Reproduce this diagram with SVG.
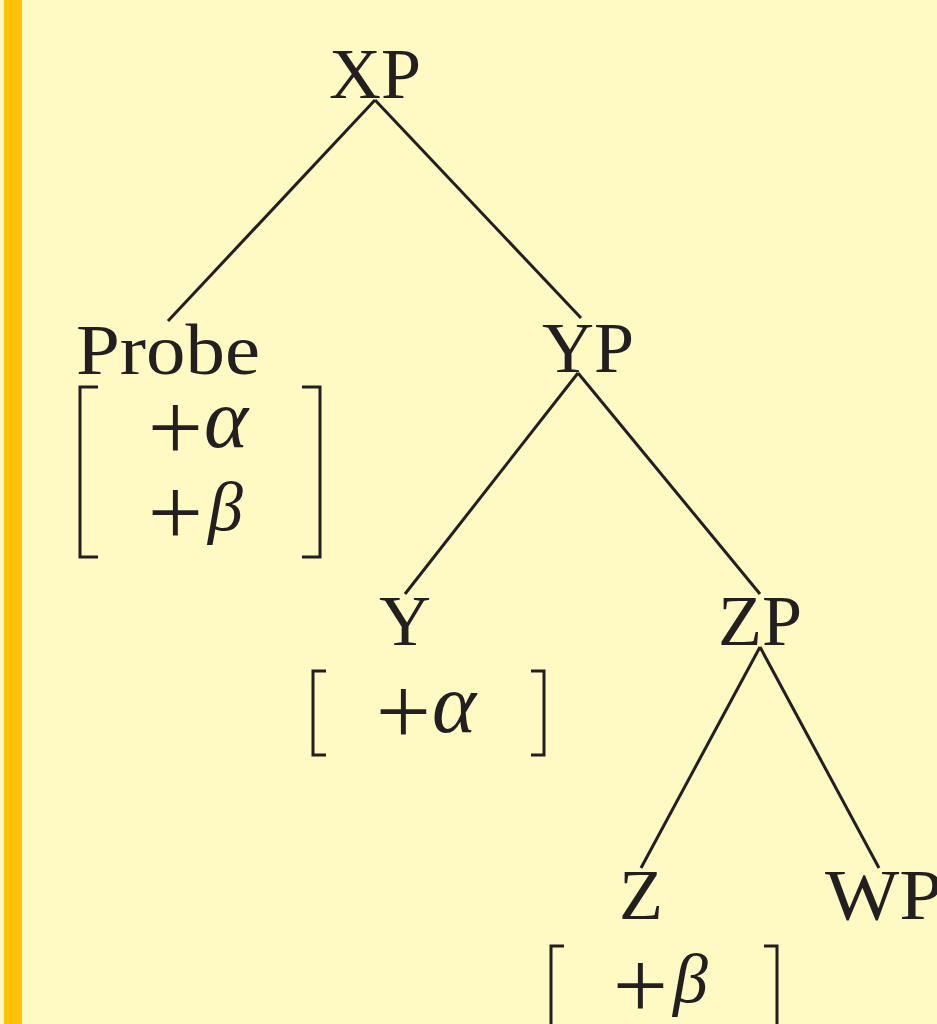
<svg xmlns="http://www.w3.org/2000/svg" width="937" height="1024" viewBox="0 0 937 1024">
<style>
.lbl{font-family:"Liberation Serif","DejaVu Serif",serif;font-size:72px;fill:#231F20;text-anchor:middle}
.pl{font-family:"Liberation Serif","DejaVu Serif",serif;font-size:98px;fill:#231F20;text-anchor:middle}
.al{font-family:"Liberation Serif","DejaVu Serif",serif;font-size:84px;font-style:italic;fill:#231F20}
.be{font-family:"Liberation Serif","DejaVu Serif",serif;font-size:70px;font-style:italic;fill:#231F20}
.br{fill:none;stroke:#231F20;stroke-width:3}
.edge{stroke:#231F20;stroke-width:3;fill:none}
</style>
<rect width="937" height="1024" fill="#FFF9C4"/>
<rect x="4" y="0" width="18" height="1024" fill="#FFC107"/>
<g id="connectors">
<line class="edge" x1="375" y1="100" x2="168" y2="321"/>
<line class="edge" x1="375" y1="100" x2="581" y2="318"/>
<line class="edge" x1="578" y1="373" x2="405" y2="594"/>
<line class="edge" x1="578" y1="373" x2="760" y2="594"/>
<line class="edge" x1="760" y1="647" x2="641" y2="868"/>
<line class="edge" x1="760" y1="647" x2="879" y2="868"/>
</g>
<g id="XP"><text class="lbl" x="375" y="98">XP</text></g>
<g id="Probe">
<text class="lbl" x="168" y="374" textLength="184" lengthAdjust="spacingAndGlyphs">Probe</text>
<path class="br" d="M98,387 H80 V557 H98 M302,387 H320 V557 H302"/>
<text class="pl" x="175.5" y="460">+</text><text class="al" x="204" y="447">α</text>
<text class="pl" x="175.5" y="545">+</text><text class="be" x="208" y="530">β</text>
</g>
<g id="YP"><text class="lbl" x="588" y="372">YP</text></g>
<g id="Y">
<text class="lbl" x="405" y="645">Y</text>
<path class="br" d="M326,671 H313 V755 H326 M531,671 H544 V755 H531"/>
<text class="pl" x="403.5" y="744">+</text><text class="al" x="432" y="732">α</text>
</g>
<g id="ZP"><text class="lbl" x="760" y="645">ZP</text></g>
<g id="Z">
<text class="lbl" x="641" y="919">Z</text>
<path class="br" d="M564,946 H551 V1030 M764,946 H777 V1030"/>
<text class="pl" x="640.5" y="1018">+</text><text class="be" x="673" y="1002">β</text>
</g>
<g id="WP"><text class="lbl" x="884" y="919" textLength="118" lengthAdjust="spacingAndGlyphs">WP</text></g>
</svg>
